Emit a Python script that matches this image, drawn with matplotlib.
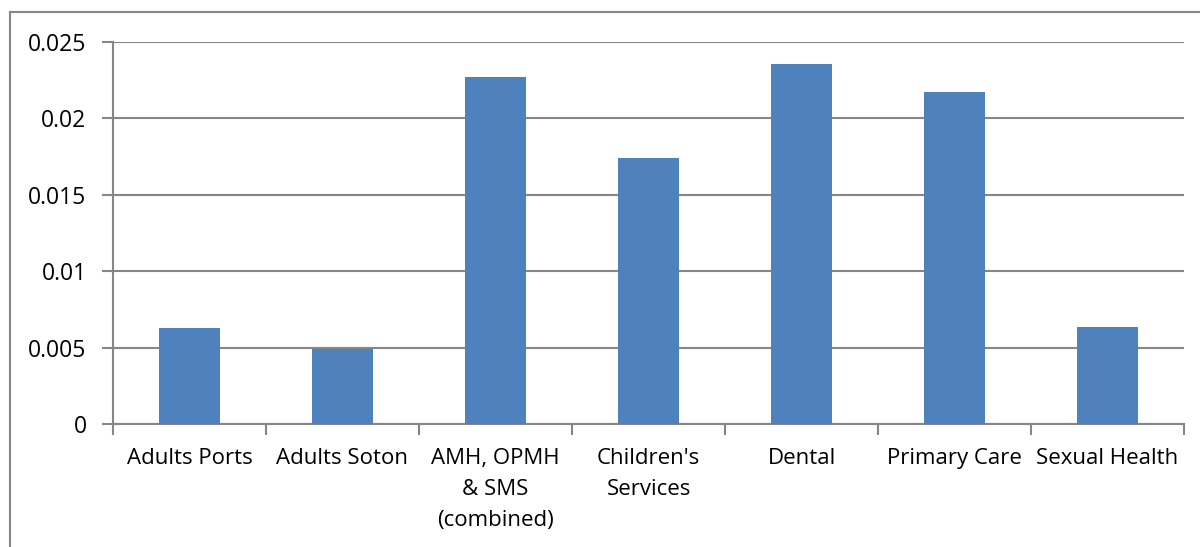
import matplotlib.pyplot as plt
from matplotlib.lines import Line2D
import numpy as np

categories = ["Adults Ports", "Adults Soton", "AMH, OPMH\n& SMS\n(combined)",
              "Children's\nServices", "Dental", "Primary Care", "Sexual Health"]
values = [0.00628, 0.00491, 0.02271, 0.01741, 0.02356, 0.02173, 0.00635]
yticks = [0, 0.005, 0.01, 0.015, 0.02, 0.025]
ytick_labels = ["0", "0.005", "0.01", "0.015", "0.02", "0.025"]

plt.rcParams['font.family'] = ['Open Sans', 'DejaVu Sans']
grey = '#868686'

fig = plt.figure(figsize=(12, 5.47), dpi=100)
ax = fig.add_axes([113 / 1200, 1 - 424 / 547, (1184 - 113) / 1200, (424 - 42) / 547])

x = np.arange(len(categories))
ax.bar(x, values, width=0.405, color='#4F81BD', zorder=3)

ax.set_xlim(-0.5, len(categories) - 0.5)
ax.set_ylim(0, 0.025)
ax.set_yticks(yticks)
ax.set_yticklabels(ytick_labels, fontsize=16.5)
ax.yaxis.grid(True, color=grey, linewidth=1.5, zorder=0)

ax.set_xticks(x)
ax.set_xticklabels(categories, fontsize=16, linespacing=1.65)
ax.tick_params(axis='x', length=0, pad=17)
ax.set_xticks(np.arange(len(categories) + 1) - 0.5, minor=True)
ax.tick_params(axis='x', which='minor', length=8, color=grey, width=1.5)
ax.tick_params(axis='y', length=8, color=grey, width=1.5, pad=11)

for side in ['top', 'right']:
    ax.spines[side].set_visible(False)
for side in ['left', 'bottom']:
    ax.spines[side].set_color(grey)
    ax.spines[side].set_linewidth(1.5)

# outer chart border (runs off the right and bottom of the image)
bx = 10 / 1200
by = 1 - 12 / 547
fig.add_artist(Line2D([bx, bx], [0, by], color=grey, linewidth=1.5, transform=fig.transFigure))
fig.add_artist(Line2D([bx, 1], [by, by], color=grey, linewidth=1.5, transform=fig.transFigure))

fig.savefig('out.png', dpi=100)
